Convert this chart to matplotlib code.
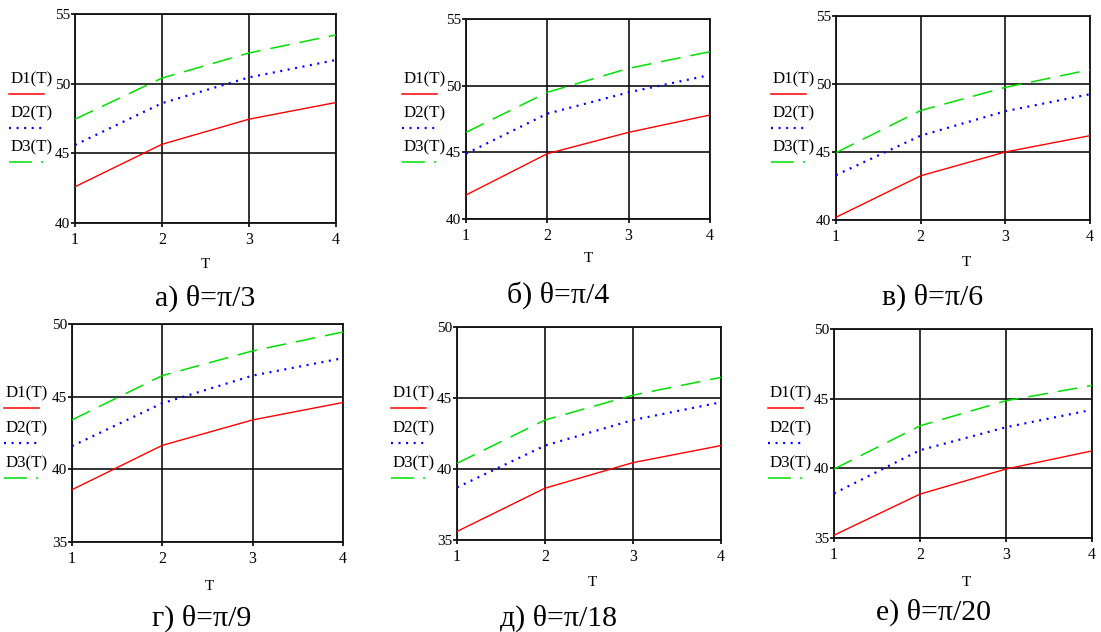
#!/usr/bin/env python3
'''
Six Mathcad-style panels: D1(T), D2(T), D3(T) for several angles theta
'''
import matplotlib
matplotlib.use('Agg')
import matplotlib.pyplot as plt
from matplotlib.lines import Line2D

plt.rcParams['font.family'] = ['Liberation Serif', 'DejaVu Serif']

W, H = 1101, 632

T = [1, 2, 3, 4]
captions = ['а) θ=π/3', 'б) θ=π/4', 'в) θ=π/6',
            'г) θ=π/9', 'д) θ=π/18', 'е) θ=π/20']
y_ranges = [(40, 55), (40, 55), (40, 55), (35, 50), (35, 50), (35, 50)]
y_ticks = [[40, 45, 50, 55]] * 3 + [[35, 40, 45, 50]] * 3

d1 = [[42.6, 45.65, 47.45, 48.65],
      [41.8, 44.9, 46.5, 47.8],
      [40.2, 43.25, 45.0, 46.2],
      [38.6, 41.65, 43.4, 44.6],
      [35.6, 38.65, 40.45, 41.65],
      [35.2, 38.15, 39.95, 41.25]]
d2 = [[45.6, 48.6, 50.45, 51.7],
      [44.9, 47.9, 49.5, 50.8],
      [43.3, 46.2, 48.0, 49.25],
      [41.6, 44.55, 46.45, 47.65],
      [38.7, 41.65, 43.45, 44.7],
      [38.2, 41.3, 42.95, 44.2]]
d3 = [[47.45, 50.4, 52.2, 53.5],
      [46.5, 49.5, 51.3, 52.55],
      [44.95, 48.05, 49.75, 51.05],
      [43.4, 46.45, 48.15, 49.45],
      [40.4, 43.45, 45.2, 46.45],
      [39.95, 43.05, 44.85, 45.95]]
names = ['D1(T)', 'D2(T)', 'D3(T)']

# pixel layout (left, right, top, bottom)
boxes = [(75, 336, 14, 223), (466, 710, 19, 219), (836, 1090, 16, 220),
         (72, 343, 324, 542), (457, 721, 327, 540), (834, 1092, 329, 538)]
cap_xy = [(205, 298), (558, 295), (933, 297),
          (202, 618), (558, 618), (933, 612)]
t_xy = [(205, 265), (588, 258), (966, 262),
        (209, 587), (592, 583), (966, 582)]
leg_x = [11, 404, 773, 6, 393, 770]
leg_text_y = [[79, 113, 147]] * 3 + [[393, 428, 463]] * 3
leg_line_y = [[94, 128, 162]] * 3 + [[408, 443, 478]] * 3

styles = [dict(color='#ff0000', lw=1.0, ls='-'),
          dict(color='#0000ff', lw=1.6, ls=(0, (0.9, 2.5))),
          dict(color='#00e000', lw=1.1, ls=(0, (13, 6.5)))]
leg_styles = [dict(color='#ff0000', lw=1.1, ls='-'),
              dict(color='#0000ff', lw=1.6, ls=(0, (0.9, 2.5))),
              dict(color='#00e000', lw=1.1, ls=(0, (15, 6, 1.4, 20)))]


def fx(px):
    return px / W


def fy(py):
    return 1 - py / H


fig = plt.figure(figsize=(W / 100, H / 100), dpi=100)

for i in range(6):
    l, r, t, b = boxes[i]
    ax = fig.add_axes([fx(l), fy(b), (r - l) / W, (b - t) / H])
    for k, data in enumerate([d1[i], d2[i], d3[i]]):
        ax.plot(T, data, **styles[k], zorder=3)
    ax.set_xlim(1, 4)
    ax.set_ylim(*y_ranges[i])
    ax.set_xticks(T)
    ax.set_yticks(y_ticks[i])
    ax.grid(True, color='#111111', lw=1.2)
    for s in ax.spines.values():
        s.set_linewidth(1.3)
        s.set_color('#111111')
    ax.tick_params(axis='x', direction='out', length=3, width=1.2,
                   pad=3.5, labelsize=11.5)
    ax.tick_params(axis='y', direction='out', length=3, width=1.2,
                   pad=0.5, labelsize=11)
    ax.set_facecolor('white')

    fig.text(fx(t_xy[i][0]), fy(t_xy[i][1]), 'T', fontsize=11,
             ha='center', va='center')
    fig.text(fx(cap_xy[i][0]), fy(cap_xy[i][1]), captions[i],
             fontsize=21.5, ha='center', va='center')

    for k in range(3):
        x0 = leg_x[i]
        fig.text(fx(x0), fy(leg_text_y[i][k]), names[k], fontsize=12.2,
                 ha='left', va='center')
        fig.add_artist(Line2D([fx(x0 - 2), fx(x0 + 33)],
                              [fy(leg_line_y[i][k])] * 2,
                              transform=fig.transFigure,
                              **leg_styles[k]))

fig.savefig('out.png', dpi=100)
